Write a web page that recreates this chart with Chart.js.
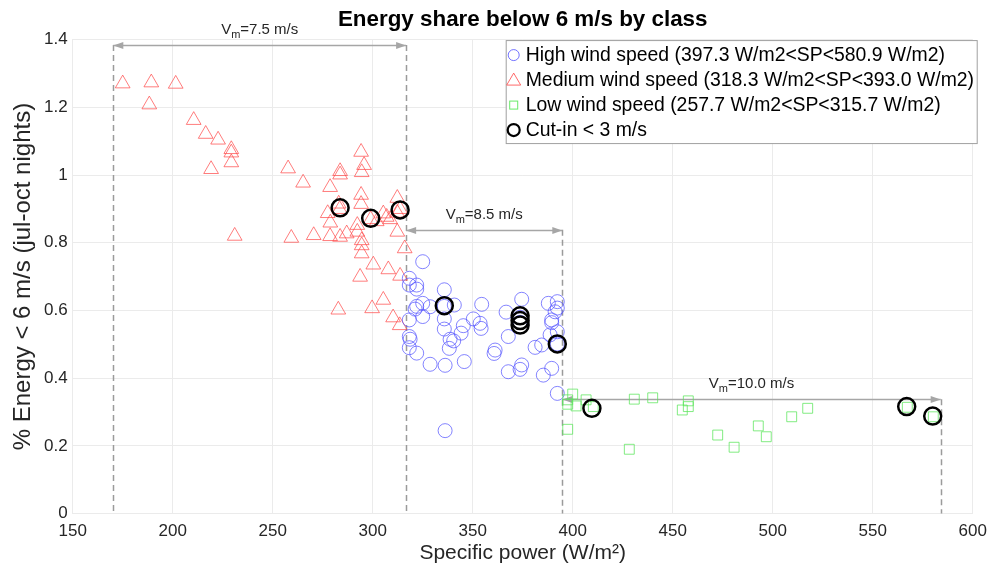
<!DOCTYPE html>
<html>
<head>
<meta charset="utf-8">
<script src="https://cdn.jsdelivr.net/npm/chart.js@4/dist/chart.umd.min.js"></script>
<style>
  html,body{margin:0;padding:0;background:#fff;}
  #wrap{width:990px;height:574px;}
</style>
</head>
<body>
<div id="wrap"><canvas id="grafico" width="990" height="574"></canvas></div>
<script>
// Pontos: [potência específica W/m², fração de energia]
const altoVento = [
  [325,0.744],[318.3,0.695],[318.3,0.675],[322,0.675],[322,0.663],[325,0.621],[321.2,0.604],[322,0.612],
  [325,0.582],[318.3,0.572],[318.3,0.523],[318.7,0.515],[318.3,0.490],[322,0.474],[328.7,0.611],[335.8,0.661],
  [335.8,0.612],[340.8,0.616],[335.8,0.575],[335.8,0.545],[338.7,0.515],[340.5,0.510],[338.3,0.488],[328.7,0.441],
  [336.2,0.438],[345.8,0.449],[345.3,0.555],[344.2,0.533],[350.3,0.575],[353.7,0.562],[354.2,0.547],[354.5,0.618],
  [366.7,0.595],[374.5,0.633],[373.7,0.580],[373.7,0.565],[367.8,0.523],[361.2,0.483],[360.7,0.473],[374.5,0.439],
  [373.7,0.426],[367.8,0.419],[387.8,0.621],[392.3,0.626],[392.3,0.607],[391.2,0.596],[389.5,0.572],[389.5,0.564],
  [392.3,0.537],[388.7,0.528],[384.5,0.498],[381.2,0.491],[392.3,0.501],[389.5,0.429],[385.3,0.409],[392.3,0.355],
  [336.2,0.245]
];
const medioVento = [
  [175,1.270],[189.3,1.273],[201.5,1.269],[188.3,1.208],[210.5,1.162],[216.5,1.121],[222.7,1.104],[229.3,1.076],
  [229.3,1.066],[229.3,1.037],[219.2,1.017],[231,0.820],[257.7,1.019],[265.2,0.977],[259.3,0.814],[270.5,0.822],
  [278.7,0.964],[283.7,1.011],[283.7,1.001],[277.5,0.887],[283,0.915],[283.5,0.899],[278.8,0.859],[278.7,0.819],
  [283.7,0.817],[287,0.827],[294.2,1.068],[295.7,1.029],[294.5,1.008],[294.2,0.941],[294.2,0.914],[292.3,0.852],
  [292.3,0.832],[294.5,0.807],[294.5,0.792],[294.5,0.768],[293.7,0.699],[300.3,0.735],[307.8,0.721],[313.7,0.702],
  [305.3,0.631],[299.7,0.606],[282.8,0.602],[310.2,0.579],[313.5,0.556],[312.3,0.932],[313.7,0.899],[312.3,0.888],
  [305.3,0.886],[307,0.876],[308.7,0.869],[302,0.863],[299,0.869],[312.3,0.832],[316,0.783]
];
const baixoVento = [
  [400,0.353],[397.5,0.336],[397.5,0.323],[401.7,0.318],[406.7,0.336],[410.3,0.316],[397.5,0.249],[430.8,0.338],
  [440,0.342],[457.8,0.333],[457.8,0.316],[454.8,0.306],[428.3,0.190],[472.5,0.232],[480.7,0.196],[492.8,0.259],
  [496.8,0.227],[509.5,0.286],[517.5,0.311],[567.3,0.314],[580.3,0.286]
];
const cutIn = [
  [283.7,0.903],[299,0.872],[313.7,0.897],[335.8,0.614],[373.7,0.584],[373.7,0.570],[373.7,0.557],
  [392.3,0.501],[409.6,0.311],[567,0.316],[580,0.288]
];

// Faixas de velocidade média (setas e linhas tracejadas)
const limites = [170.3, 316.7, 394.8, 584];
const topoLimites = [1.384, 1.384, 0.838, 0.338];
const setaInicio = [170.3, 316.7, 394.8];
const setaFim = [316.7, 394.8, 584];
const setaNivel = [1.384, 0.838, 0.338];
const vmTextos = ['=7.5 m/s', '=8.5 m/s', '=10.0 m/s'];

const legendaTextos = [
  'High wind speed (397.3 W/m2<SP<580.9 W/m2)',
  'Medium wind speed (318.3 W/m2<SP<393.0 W/m2)',
  'Low wind speed (257.7 W/m2<SP<315.7 W/m2)',
  'Cut-in < 3 m/s'
];
const xTicks = [150,200,250,300,350,400,450,500,550,600];
const yTicks = [0,0.2,0.4,0.6,0.8,1,1.2,1.4];

const fonte = '"Liberation Sans", Arial, sans-serif';
const corTexto = '#262626';
const pts = arr => arr.map(p => ({x:p[0], y:p[1]}));

function seta(ctx, x1, x2, y){
  ctx.beginPath(); ctx.moveTo(x1, y); ctx.lineTo(x2, y); ctx.stroke();
  [[x1,1],[x2,-1]].forEach(([xp,d])=>{
    ctx.beginPath();
    ctx.moveTo(xp, y);
    ctx.lineTo(xp + d*10, y - 3.5);
    ctx.lineTo(xp + d*10, y + 3.5);
    ctx.closePath(); ctx.fill();
  });
}

const anotacoes = {
  id:'anotacoes',
  beforeDatasetsDraw(chart){
    const {ctx, scales:{x,y}} = chart;
    ctx.save();
    ctx.strokeStyle = '#9b9b9b'; ctx.lineWidth = 1.5; ctx.setLineDash([6,4]);
    limites.forEach((v,i)=>{
      const px = Math.round(x.getPixelForValue(v)) + 0.5;
      ctx.beginPath();
      ctx.moveTo(px, y.getPixelForValue(topoLimites[i]));
      ctx.lineTo(px, y.getPixelForValue(0));
      ctx.stroke();
    });
    ctx.setLineDash([]);
    ctx.strokeStyle = '#a6a6a6'; ctx.fillStyle = '#a6a6a6'; ctx.lineWidth = 1.5;
    setaNivel.forEach((lv,i)=>{
      const py = Math.round(y.getPixelForValue(lv)) + 0.5;
      seta(ctx, x.getPixelForValue(setaInicio[i]), x.getPixelForValue(setaFim[i]), py);
    });
    // rótulos V_m
    ctx.fillStyle = corTexto; ctx.textBaseline = 'alphabetic';
    setaNivel.forEach((lv,i)=>{
      const cx = (x.getPixelForValue(setaInicio[i]) + x.getPixelForValue(setaFim[i]))/2;
      const base = y.getPixelForValue(lv) - 11;
      ctx.font = '15px ' + fonte; const wV = ctx.measureText('V').width;
      const wR = ctx.measureText(vmTextos[i]).width;
      ctx.font = '11px ' + fonte; const wm = ctx.measureText('m').width;
      let sx = cx - (wV + wm + wR)/2;
      ctx.textAlign = 'left';
      ctx.font = '15px ' + fonte; ctx.fillText('V', sx, base);
      ctx.font = '11px ' + fonte; ctx.fillText('m', sx + wV, base + 4);
      ctx.font = '15px ' + fonte; ctx.fillText(vmTextos[i], sx + wV + wm, base);
    });
    ctx.restore();
  },
  afterDraw(chart){
    const {ctx, chartArea} = chart;
    const lx = chartArea.right - 467, ly = chartArea.top + 0.5, lw = 471, lh = 103;
    ctx.save();
    ctx.fillStyle = '#fff'; ctx.fillRect(lx, ly, lw, lh);
    ctx.strokeStyle = '#a0a0a0'; ctx.lineWidth = 1; ctx.strokeRect(lx + 0.5, ly + 0.5, lw, lh);
    ctx.font = '19.4px ' + fonte; ctx.fillStyle = '#000'; ctx.textBaseline = 'middle'; ctx.textAlign = 'left';
    legendaTextos.forEach((t,i)=>{
      const cy = ly + 15 + i*25, sx = lx + 8;
      ctx.lineWidth = 1;
      if(i===0){ ctx.strokeStyle = 'rgba(90,90,255,0.85)'; ctx.beginPath(); ctx.arc(sx, cy, 5.5, 0, Math.PI*2); ctx.stroke(); }
      if(i===1){ ctx.strokeStyle = 'rgba(255,80,80,0.85)'; ctx.beginPath(); ctx.moveTo(sx, cy-7); ctx.lineTo(sx+7, cy+5); ctx.lineTo(sx-7, cy+5); ctx.closePath(); ctx.stroke(); }
      if(i===2){ ctx.strokeStyle = 'rgba(80,230,80,0.85)'; ctx.strokeRect(sx-4, cy-4, 8, 8); }
      if(i===3){ ctx.strokeStyle = '#000'; ctx.lineWidth = 2.2; ctx.beginPath(); ctx.arc(sx, cy, 6, 0, Math.PI*2); ctx.stroke(); }
      ctx.fillStyle = '#000';
      ctx.fillText(t, lx + 20, cy + 1);
    });
    ctx.restore();
  }
};

new Chart(document.getElementById('grafico').getContext('2d'), {
  type:'scatter',
  data:{
    datasets:[
      { label:'Cut-in < 3 m/s', data:pts(cutIn), order:0, pointStyle:'circle', pointRadius:8.5,
        borderColor:'#000', borderWidth:2.5, backgroundColor:'rgba(0,0,0,0)' },
      { label:'Low wind speed', data:pts(baixoVento), order:1, pointStyle:'rect', pointRadius:7,
        borderColor:'rgba(90,230,90,0.75)', borderWidth:1, backgroundColor:'rgba(0,0,0,0)' },
      { label:'High wind speed', data:pts(altoVento), order:2, pointStyle:'circle', pointRadius:7,
        borderColor:'rgba(80,80,255,0.7)', borderWidth:1, backgroundColor:'rgba(0,0,0,0)' },
      { label:'Medium wind speed', data:pts(medioVento), order:3, pointStyle:'triangle', pointRadius:8.5,
        borderColor:'rgba(255,70,70,0.7)', borderWidth:1, backgroundColor:'rgba(0,0,0,0)' }
    ]
  },
  options:{
    responsive:false, animation:false, devicePixelRatio:1,
    layout:{padding:{left:0,right:17.3,top:0,bottom:0}},
    plugins:{
      legend:{display:false}, tooltip:{enabled:false},
      title:{display:true, fullSize:false, text:'Energy share below 6 m/s by class', color:'#000',
        font:{family:fonte, size:22.4, weight:'bold', lineHeight:1.2}, padding:{top:6.3,bottom:6.4}}
    },
    scales:{
      x:{
        type:'linear', min:150, max:600,
        afterBuildTicks: s => { s.ticks = xTicks.map(v=>({value:v})); },
        afterFit: s => { s.height = 60.4; s.paddingLeft = 0; s.paddingRight = 0; },
        grid:{color:'#ebebeb', drawTicks:false},
        border:{color:'#ebebeb'},
        ticks:{color:corTexto, padding:8, font:{family:fonte, size:17}},
        title:{display:true, text:'Specific power (W/m²)', color:corTexto,
          font:{family:fonte, size:21}, padding:{top:0,bottom:8}}
      },
      y:{
        type:'linear', min:0, max:1.4,
        afterBuildTicks: s => { s.ticks = yTicks.map(v=>({value:v})); },
        afterFit: s => { s.width = 72.7; s.paddingTop = 0; s.paddingBottom = 0; },
        grid:{color:'#ebebeb', drawTicks:false},
        border:{color:'#ebebeb'},
        ticks:{color:corTexto, padding:5, font:{family:fonte, size:17}, callback:v=>String(v)},
        title:{display:true, text:'% Energy < 6 m/s (jul-oct nights)', color:corTexto,
          font:{family:fonte, size:24}, padding:{top:9,bottom:0}}
      }
    }
  },
  plugins:[anotacoes]
});
</script>
</body>
</html>
